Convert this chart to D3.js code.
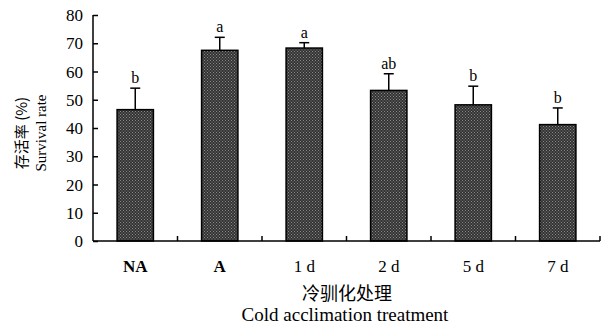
<!DOCTYPE html>
<html>
<head>
<meta charset="utf-8">
<script src="https://cdn.jsdelivr.net/npm/d3@7"></script>
<style>
  body { margin: 0; background: #fff; }
  text { font-family: "Liberation Serif", "Times New Roman", serif; fill: #000; }
</style>
</head>
<body>
<script>
var categories = ['NA', 'A', '1 d', '2 d', '5 d', '7 d'];
var survival = [46.5, 67.5, 68.3, 53.3, 48.2, 41.2];
var errors = [7.6, 4.6, 1.9, 5.9, 6.6, 5.9];
var letters = ['b', 'a', 'a', 'ab', 'b', 'b'];
var yTicks = [0, 10, 20, 30, 40, 50, 60, 70, 80];

var width = 607;
var height = 327;
var plotLeft = 93, plotRight = 600, plotTop = 15, plotBottom = 241;

var svg = d3.select('body')
    .append('svg')
    .attr('width', width)
    .attr('height', height);

// crosshatch fill
var pat = svg.append('defs').append('pattern')
    .attr('id', 'hatch')
    .attr('width', 3)
    .attr('height', 3)
    .attr('patternUnits', 'userSpaceOnUse');
pat.append('rect').attr('width', 3).attr('height', 3).attr('fill', '#333');
pat.append('rect').attr('x', 0).attr('y', 0).attr('width', 1).attr('height', 1).attr('fill', '#8a8a8a');
pat.append('rect').attr('x', 1.5).attr('y', 1.5).attr('width', 1).attr('height', 1).attr('fill', '#8a8a8a');

var x = d3.scaleBand()
    .domain(categories)
    .range([plotLeft, plotRight])
    .paddingInner(0)
    .paddingOuter(0);

var y = d3.scaleLinear()
    .domain([0, 80])
    .range([plotBottom, plotTop]);

var barW = x.bandwidth() * 0.43;

// bars
svg.selectAll('.bar')
    .data(categories)
    .enter()
    .append('rect')
    .attr('x', function(d) { return x(d) + x.bandwidth() / 2 - barW / 2; })
    .attr('y', function(d, i) { return y(survival[i]); })
    .attr('width', barW)
    .attr('height', function(d, i) { return plotBottom - y(survival[i]); })
    .attr('fill', 'url(#hatch)')
    .attr('stroke', '#000')
    .attr('stroke-width', 1.5);

// error bars (upper only)
var eb = svg.selectAll('.err')
    .data(categories)
    .enter()
    .append('g');
eb.append('line')
    .attr('x1', function(d) { return x(d) + x.bandwidth() / 2; })
    .attr('x2', function(d) { return x(d) + x.bandwidth() / 2; })
    .attr('y1', function(d, i) { return y(survival[i]); })
    .attr('y2', function(d, i) { return y(survival[i] + errors[i]); })
    .attr('stroke', '#000')
    .attr('stroke-width', 1.5);
eb.append('line')
    .attr('x1', function(d) { return x(d) + x.bandwidth() / 2 - 5; })
    .attr('x2', function(d) { return x(d) + x.bandwidth() / 2 + 5; })
    .attr('y1', function(d, i) { return y(survival[i] + errors[i]); })
    .attr('y2', function(d, i) { return y(survival[i] + errors[i]); })
    .attr('stroke', '#000')
    .attr('stroke-width', 1.5);
eb.append('text')
    .attr('x', function(d) { return x(d) + x.bandwidth() / 2; })
    .attr('y', function(d, i) { return y(survival[i] + errors[i]) - 5; })
    .attr('text-anchor', 'middle')
    .attr('font-size', 16)
    .text(function(d, i) { return letters[i]; });

// y axis
var yAxis = svg.append('g')
    .attr('transform', 'translate(' + plotLeft + ',0)')
    .call(d3.axisRight(y).tickValues(yTicks).tickSize(5).tickFormat(''));
yAxis.select('.domain').attr('d', 'M0,' + plotTop + 'V' + plotBottom).attr('stroke-width', 1.5);
yAxis.selectAll('.tick line').attr('stroke-width', 1.5);
svg.selectAll('.ylab')
    .data(yTicks)
    .enter()
    .append('text')
    .attr('x', plotLeft - 10)
    .attr('y', function(d) { return y(d) + 6; })
    .attr('text-anchor', 'end')
    .attr('font-size', 17)
    .text(function(d) { return d; });

// x axis
var xTickPos = categories.slice(1).map(function(d) { return x(d); }).concat([plotRight]);
var xAxis = svg.append('g')
    .attr('transform', 'translate(0,' + plotBottom + ')');
xAxis.append('line')
    .attr('x1', plotLeft).attr('x2', plotRight)
    .attr('stroke', '#000').attr('stroke-width', 1.5);
xAxis.selectAll('.xt')
    .data(xTickPos)
    .enter()
    .append('line')
    .attr('x1', function(d) { return d; })
    .attr('x2', function(d) { return d; })
    .attr('y1', 0).attr('y2', -5)
    .attr('stroke', '#000').attr('stroke-width', 1.5);
xAxis.selectAll('.xl')
    .data(categories)
    .enter()
    .append('text')
    .attr('x', function(d) { return x(d) + x.bandwidth() / 2; })
    .attr('y', 31)
    .attr('text-anchor', 'middle')
    .attr('font-size', 17)
    .attr('font-weight', function(d, i) { return i < 2 ? 'bold' : 'normal'; })
    .text(function(d) { return d; });

// axis titles
svg.append('text')
    .attr('x', 347).attr('y', 300)
    .attr('text-anchor', 'middle')
    .attr('font-size', 18)
    .style('font-family', '"Noto Sans CJK SC", sans-serif')
    .text('冷驯化处理');
svg.append('text')
    .attr('x', 345).attr('y', 321)
    .attr('text-anchor', 'middle')
    .attr('font-size', 19)
    .text('Cold acclimation treatment');

svg.append('text')
    .attr('transform', 'translate(27,133) rotate(-90)')
    .attr('text-anchor', 'middle')
    .attr('font-size', 15)
    .text('存活率 (%)')
    .style('font-family', '"Noto Sans CJK SC", "Liberation Serif", serif');
svg.append('text')
    .attr('transform', 'translate(46,133) rotate(-90)')
    .attr('text-anchor', 'middle')
    .attr('font-size', 15)
    .text('Survival rate');
</script>
</body>
</html>
